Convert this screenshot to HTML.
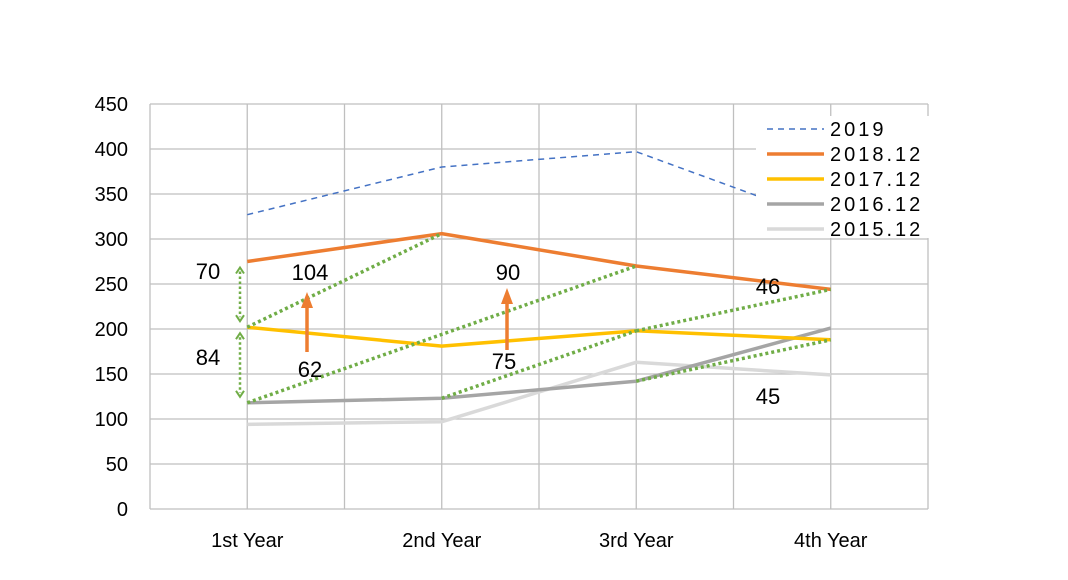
<!DOCTYPE html>
<html><head><meta charset="utf-8">
<style>
html,body{margin:0;padding:0;background:#fff;}
svg{display:block;font-family:"Liberation Sans",sans-serif;}
</style></head>
<body>
<svg id="chart" width="1068" height="580" viewBox="0 0 1068 580"></svg>
<script>
const categories = ["1st Year","2nd Year","3rd Year","4th Year"];
const yTicks = [0,50,100,150,200,250,300,350,400,450];
const seriesNames = ["2019","2018.12","2017.12","2016.12","2015.12"];
const s2019 = [327,380,397,318];
const s2018 = [275,306,270,244];
const s2017 = [202,181,198,188];
const s2016 = [118,123,142,201];
const s2015 = [94,97,163,149];
const seriesValues = [s2019,s2018,s2017,s2016,s2015];
const seriesColors = ["#4472c4","#ed7d31","#ffc000","#a5a5a5","#d9d9d9"];
const annotationLabels = ["70","84","104","62","90","75","46","45"];

const svg = document.getElementById('chart');
const NS = "http://www.w3.org/2000/svg";
const X0 = 150, X1 = 928, Y0 = 509, YMAX = 450, PH = 405;
const band = (X1 - X0) / categories.length;
function x(i){ return X0 + band * (i + 0.5); }
function y(v){ return Y0 - v / YMAX * PH; }
function el(tag, attrs, parent){
  const e = document.createElementNS(NS, tag);
  for (const k in attrs) e.setAttribute(k, attrs[k]);
  (parent || svg).appendChild(e);
  return e;
}

const grid = el('g', {});


yTicks.forEach(t => {
  el('line', {x1:X0, x2:X1, y1:y(t), y2:y(t), stroke:'#bfbfbf', 'stroke-width':1.3}, grid);
  const lbl = el('text', {x:128, y:y(t)+7, 'text-anchor':'end', 'font-size':20, fill:'#000'});
  lbl.textContent = t;
  
  
});
for (let i = 0; i <= categories.length * 2; i++) {
  const gx = X0 + band / 2 * i;
  el('line', {x1:gx, x2:gx, y1:y(YMAX), y2:Y0, stroke:'#bfbfbf', 'stroke-width':1.3}, grid);
}
categories.forEach((c, i) => {
  const lbl = el('text', {x:x(i), y:547, 'text-anchor':'middle', 'font-size':20, fill:'#000'});
  lbl.textContent = c;
  
  
});

for (let si = seriesValues.length - 1; si >= 0; si--) {
  const pts = seriesValues[si].map((v, i) => x(i) + ',' + y(v)).join(' ');
  const pl = el('polyline', {points:pts, fill:'none', stroke:seriesColors[si],
    'stroke-width': si === 0 ? 1.5 : 3.5, 'stroke-dasharray': si === 0 ? '6,5' : 'none'});
  
  
}

const green = "#70ad47";
const diag = [[0,s2017[0],1,s2018[1]],[0,s2016[0],2,s2018[2]],[1,s2016[1],2,s2017[2]],[2,s2017[2],3,s2018[3]],[2,s2016[2],3,s2017[3]]];
diag.forEach(d => {
  const l = el('line', {x1:x(d[0]), y1:y(d[1]), x2:x(d[2]), y2:y(d[3]), stroke:green, 'stroke-width':3.5, 'stroke-dasharray':'3,3'});
  
  
});
function dblArrow(ax, v1, v2){
  const y1 = y(v1) + 6, y2 = y(v2) - 6;
  const g = el('g', {});
  
  
  el('line', {x1:ax, x2:ax, y1:y1+4, y2:y2-4, stroke:green, 'stroke-width':2.5, 'stroke-dasharray':'2.5,2.5'}, g);
  el('polyline', {points:`${ax-4},${y1+6} ${ax},${y1} ${ax+4},${y1+6}`, fill:'none', stroke:green, 'stroke-width':2}, g);
  el('polyline', {points:`${ax-4},${y2-6} ${ax},${y2} ${ax+4},${y2-6}`, fill:'none', stroke:green, 'stroke-width':2}, g);
}
dblArrow(240, s2018[0], s2017[0]);
dblArrow(240, s2017[0], s2016[0]);

function upArrow(ax, yb, yt){
  const g = el('g', {});
  
  
  el('line', {x1:ax, x2:ax, y1:yb, y2:yt+12, stroke:'#ed7d31', 'stroke-width':3.5}, g);
  el('polygon', {points:`${ax-6},${yt+16} ${ax},${yt} ${ax+6},${yt+16}`, fill:'#ed7d31'}, g);
}
upArrow(307, 352, 292);
upArrow(507, 350, 288);

const annPos = [[208,279],[208,365],[310,280],[310,377],[508,280],[504,369],[768,294],[768,404]];
annotationLabels.forEach((t, i) => {
  const tx = el('text', {x:annPos[i][0], y:annPos[i][1], 'text-anchor':'middle', 'font-size':22, fill:'#000'});
  tx.textContent = t;
  
  
});

const lg = el('g', {});


el('rect', {x:756, y:116, width:180, height:122, fill:'#fff'}, lg);
seriesNames.forEach((n, i) => {
  const ly = 129 + i * 25;
  const e = el('g', {}, lg);
  
  
  el('line', {x1:767, x2:824, y1:ly, y2:ly, stroke:seriesColors[i], 'stroke-width': i === 0 ? 1.5 : 3.5, 'stroke-dasharray': i === 0 ? '6,5' : 'none'}, e);
  const t = el('text', {x:830, y:ly+7, 'font-size':20, 'letter-spacing':3, fill:'#000'}, e);
  t.textContent = n;
});
</script>
</body></html>
